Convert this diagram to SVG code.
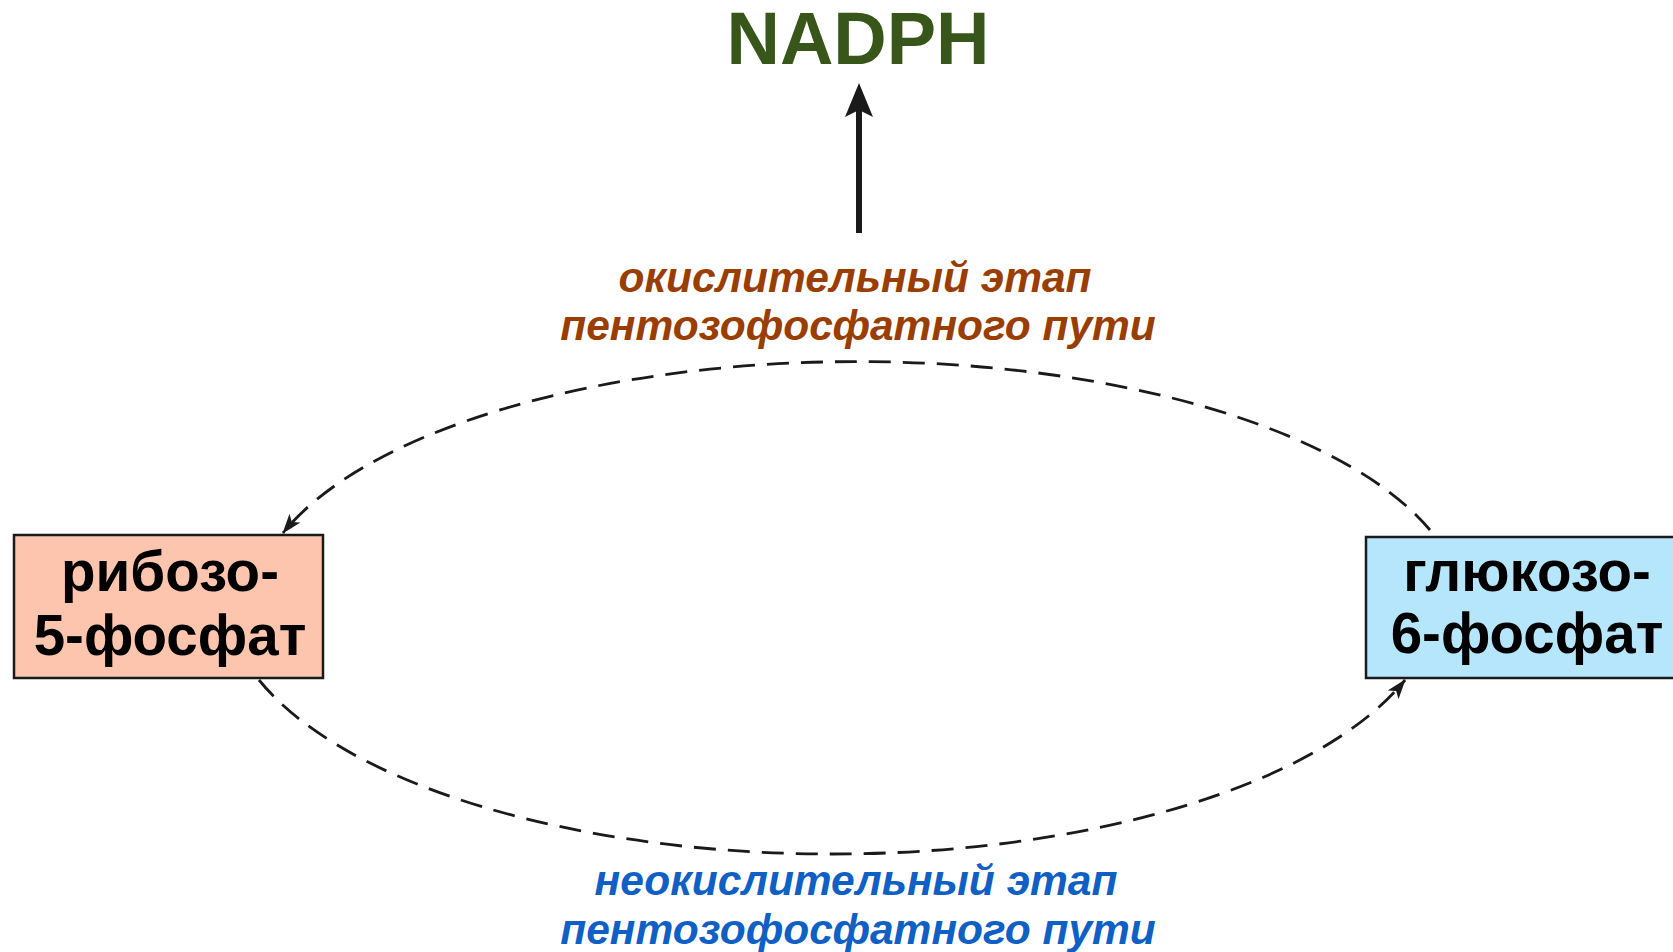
<svg xmlns="http://www.w3.org/2000/svg" width="1673" height="952" viewBox="0 0 1673 952">
  <style>
    .box { stroke: #1a1a1a; stroke-width: 2.5; }
    .name { font-family: "Liberation Sans", Arial, sans-serif; font-weight: bold; font-size: 56.5px; fill: #000; text-anchor: middle; }
    .stage { font-family: "Liberation Sans", Arial, sans-serif; font-weight: bold; font-style: italic; font-size: 42.5px; text-anchor: middle; }
    .dash { fill: none; stroke: #1a1a1a; stroke-width: 2.8; stroke-dasharray: 22 12; }
  </style>
  <defs>
    <marker id="tip" viewBox="0 0 20 14" refX="19" refY="7" markerWidth="20" markerHeight="14" markerUnits="userSpaceOnUse" orient="auto">
      <path d="M0,0 L20,7 L0,14 L5,7 Z" fill="#1a1a1a"/>
    </marker>
  </defs>
  <rect width="1673" height="952" fill="#fff"/>

  <g id="connectors">
    <!-- oxidative stage: glucose-6-phosphate to ribose-5-phosphate -->
    <path class="dash" d="M1430,530 A606,251 0 0 0 283,533" marker-end="url(#tip)"/>
    <!-- non-oxidative stage: ribose-5-phosphate back to glucose-6-phosphate -->
    <path class="dash" d="M259,680 A606,258 0 0 0 1405,680" marker-end="url(#tip)"/>
    <!-- NADPH output -->
    <line x1="859" y1="233" x2="859" y2="108" stroke="#1a1a1a" stroke-width="6"/>
    <path d="M859,83 L873,117 L859,110 L845,117 Z" fill="#1a1a1a"/>
  </g>

  <g id="nadph">
    <text x="858" y="64" font-family="'Liberation Sans', Arial, sans-serif" font-weight="bold" font-size="74" fill="#38561a" text-anchor="middle">NADPH</text>
  </g>

  <g id="oxidative-label">
    <text class="stage" fill="#9a3d00" x="855" y="292">окислительный этап</text>
    <text class="stage" fill="#9a3d00" x="858" y="340">пентозофосфатного пути</text>
  </g>

  <g id="ribose-5-phosphate">
    <rect class="box" x="14" y="535" width="309" height="143" fill="#fdc5ae"/>
    <text class="name" x="170" y="591">рибозо-</text>
    <text class="name" x="170" y="655">5-фосфат</text>
  </g>

  <g id="glucose-6-phosphate">
    <rect class="box" x="1366" y="537" width="322" height="141" fill="#b6e6fb"/>
    <text class="name" x="1527" y="591">глюкозо-</text>
    <text class="name" x="1527" y="653">6-фосфат</text>
  </g>

  <g id="nonoxidative-label">
    <text class="stage" fill="#0f5fc4" x="856" y="895">неокислительный этап</text>
    <text class="stage" fill="#0f5fc4" x="858" y="944">пентозофосфатного пути</text>
  </g>
</svg>
